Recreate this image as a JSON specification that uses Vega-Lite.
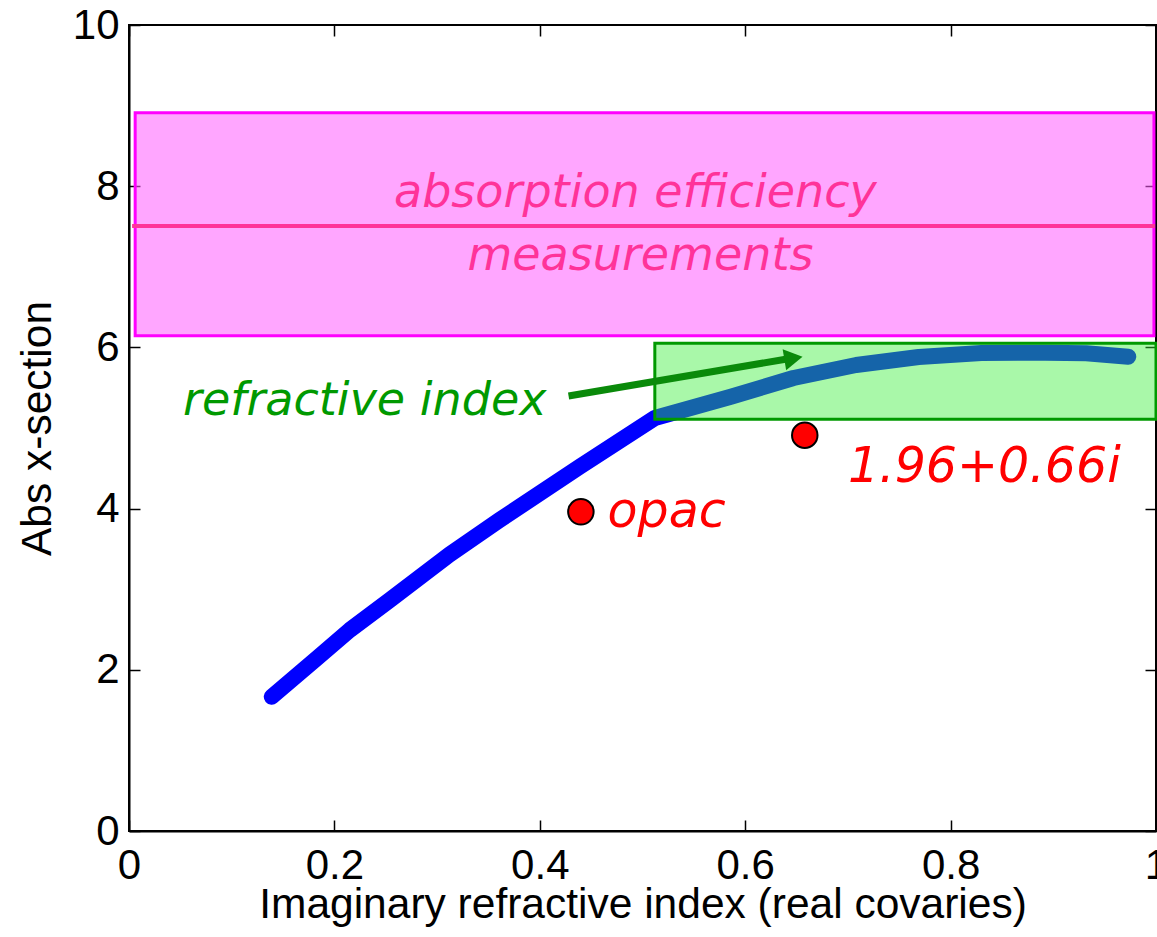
{
  "$schema": "https://vega.github.io/schema/vega-lite/v6.json",
  "width": 1027,
  "height": 806,
  "autosize": {"type": "none"},
  "padding": {"left": 129, "top": 25, "right": 1, "bottom": 106},
  "background": "white",
  "config": {
    "view": {"stroke": "black", "strokeWidth": 2},
    "axis": {
      "labelFont": "Liberation Sans",
      "labelFontSize": 42,
      "labelColor": "black",
      "titleFont": "Liberation Sans",
      "titleFontSize": 42.5,
      "titleFontWeight": "normal",
      "titleColor": "black",
      "domainColor": "black",
      "domainWidth": 2,
      "tickColor": "black",
      "tickWidth": 1.5,
      "tickSize": -11,
      "grid": false,
      "labelFlush": false
    }
  },
  "layer": [
    {
      "data": {"values": [{"x1": 0.006, "x2": 0.998, "y1": 6.145, "y2": 8.912}]},
      "mark": {"type": "rect", "fill": "#ff5cff", "fillOpacity": 0.55, "stroke": "#ff00ff", "strokeWidth": 3},
      "encoding": {
        "x": {"field": "x1", "type": "quantitative", "scale": {"domain": [0, 1], "nice": false},
              "axis": {"values": [0, 0.2, 0.4, 0.6, 0.8, 1], "format": "~g", "title": "Imaginary refractive index (real covaries)", "labelPadding": 25, "titleBaseline": "alphabetic", "titleY": 86}},
        "x2": {"field": "x2"},
        "y": {"field": "y1", "type": "quantitative", "scale": {"domain": [0, 10], "nice": false},
              "axis": {"values": [0, 2, 4, 6, 8, 10], "title": "Abs x-section", "labelPadding": 21, "titleBaseline": "alphabetic", "titleX": -79, "titleY": 403}},
        "y2": {"field": "y2"}
      }
    },
    {
      "data": {"values": [{"x": 0.0, "y": 0.0}]},
      "mark": {"type": "point", "opacity": 0},
      "encoding": {
        "x": {"field": "x", "type": "quantitative", "scale": {"domain": [0, 1], "nice": false},
              "axis": {"orient": "top", "values": [0, 0.2, 0.4, 0.6, 0.8, 1], "labels": false, "title": null, "domain": false}},
        "y": {"field": "y", "type": "quantitative", "scale": {"domain": [0, 10], "nice": false},
              "axis": {"orient": "right", "values": [0, 2, 4, 6, 8, 10], "labels": false, "title": null, "domain": false}}
      }
    },
    {
      "data": {"values": [{"x1": 0.003, "x2": 0.999, "y": 7.506}]},
      "mark": {"type": "rule", "color": "#ff3399", "strokeWidth": 4},
      "encoding": {
        "x": {"field": "x1", "type": "quantitative", "axis": null},
        "x2": {"field": "x2"},
        "y": {"field": "y", "type": "quantitative", "axis": null}
      }
    },
    {
      "data": {"values": [
        {"label": "absorption efficiency", "x": 0.493, "y": 7.746},
        {"label": "measurements", "x": 0.498, "y": 6.96}
      ]},
      "mark": {"type": "text", "font": "DejaVu Sans", "fontStyle": "italic", "fontSize": 46, "color": "#ff3399", "align": "center", "baseline": "alphabetic"},
      "encoding": {
        "x": {"field": "x", "type": "quantitative", "axis": null},
        "y": {"field": "y", "type": "quantitative", "axis": null},
        "text": {"field": "label"}
      }
    },
    {
      "data": {"values": [
        {"x": 0.139, "y": 1.666},
        {"x": 0.183, "y": 2.143},
        {"x": 0.215, "y": 2.494},
        {"x": 0.254, "y": 2.866},
        {"x": 0.312, "y": 3.43},
        {"x": 0.361, "y": 3.86},
        {"x": 0.439, "y": 4.52},
        {"x": 0.512, "y": 5.124},
        {"x": 0.586, "y": 5.388},
        {"x": 0.647, "y": 5.62},
        {"x": 0.708, "y": 5.782},
        {"x": 0.769, "y": 5.881},
        {"x": 0.83, "y": 5.931},
        {"x": 0.892, "y": 5.934},
        {"x": 0.932, "y": 5.927},
        {"x": 0.973, "y": 5.885}
      ]},
      "mark": {"type": "line", "color": "#0000ff", "strokeWidth": 16, "strokeCap": "round", "strokeJoin": "round"},
      "encoding": {
        "x": {"field": "x", "type": "quantitative", "axis": null},
        "y": {"field": "y", "type": "quantitative", "axis": null}
      }
    },
    {
      "data": {"values": [{"x1": 0.512, "x2": 1.0, "y1": 5.108, "y2": 6.051}]},
      "mark": {"type": "rect", "fill": "#33ee33", "fillOpacity": 0.42, "stroke": "#009900", "strokeWidth": 3},
      "encoding": {
        "x": {"field": "x1", "type": "quantitative", "axis": null},
        "x2": {"field": "x2"},
        "y": {"field": "y1", "type": "quantitative", "axis": null},
        "y2": {"field": "y2"}
      }
    },
    {
      "data": {"values": [{"label": "refractive index", "x": 0.0526, "y": 5.161}]},
      "mark": {"type": "text", "font": "DejaVu Sans", "fontStyle": "italic", "fontSize": 46, "color": "#009900", "align": "left", "baseline": "alphabetic"},
      "encoding": {
        "x": {"field": "x", "type": "quantitative", "axis": null},
        "y": {"field": "y", "type": "quantitative", "axis": null},
        "text": {"field": "label"}
      }
    },
    {
      "data": {"values": [{"x": 0.428, "y": 5.397, "x2": 0.645, "y2": 5.866}]},
      "mark": {"type": "rule", "color": "#0a8a0a", "strokeWidth": 7},
      "encoding": {
        "x": {"field": "x", "type": "quantitative", "axis": null},
        "y": {"field": "y", "type": "quantitative", "axis": null},
        "x2": {"field": "x2"},
        "y2": {"field": "y2"}
      }
    },
    {
      "data": {"values": [{"x": 0.647, "y": 5.865}]},
      "mark": {"type": "point", "shape": "triangle-right", "angle": 350.5, "size": 450, "filled": true, "color": "#0a8a0a", "opacity": 1},
      "encoding": {
        "x": {"field": "x", "type": "quantitative", "axis": null},
        "y": {"field": "y", "type": "quantitative", "axis": null}
      }
    },
    {
      "data": {"values": [{"x": 0.44, "y": 3.96}, {"x": 0.658, "y": 4.91}]},
      "mark": {"type": "point", "shape": "circle", "size": 650, "filled": true, "fill": "#ff0000", "stroke": "black", "strokeWidth": 2, "opacity": 1},
      "encoding": {
        "x": {"field": "x", "type": "quantitative", "axis": null},
        "y": {"field": "y", "type": "quantitative", "axis": null}
      }
    },
    {
      "data": {"values": [
        {"label": "opac", "x": 0.466, "y": 3.775},
        {"label": "1.96+0.66i", "x": 0.7, "y": 4.334}
      ]},
      "mark": {"type": "text", "font": "DejaVu Sans", "fontStyle": "italic", "fontSize": 49, "color": "#ff0000", "align": "left", "baseline": "alphabetic"},
      "encoding": {
        "x": {"field": "x", "type": "quantitative", "axis": null},
        "y": {"field": "y", "type": "quantitative", "axis": null},
        "text": {"field": "label"}
      }
    }
  ],
  "resolve": {"axis": {"x": "independent", "y": "independent"}}
}
